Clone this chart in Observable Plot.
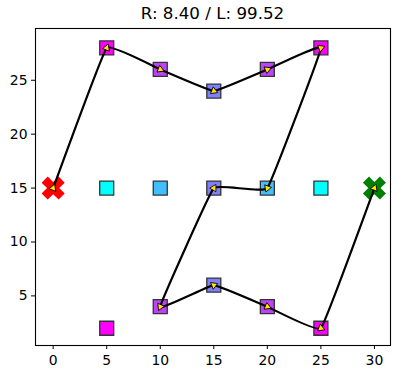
<!DOCTYPE html>
<html><head><meta charset="utf-8">
<script src="https://cdn.jsdelivr.net/npm/d3@7"></script>
<script src="https://cdn.jsdelivr.net/npm/@observablehq/plot@0.6"></script>
<style>
body{margin:0;background:#fff;}
#wrap{position:relative;width:399px;height:376px;}
#title{position:absolute;top:3px;left:35px;width:355px;text-align:center;font-family:"DejaVu Sans";font-size:16.7px;color:#000;}
</style></head>
<body><div id="wrap"><div id="title">R: 8.40 / L: 99.52</div><div id="chart"></div></div>
<script>
const title = "R: 8.40 / L: 99.52";
// squares (grid cells)
const cellX = [5,10,15,20,25, 5,10,15,20,25, 5,10,15,20,25];
const cellY = [28,26,24,26,28, 15,15,15,15,15, 2,4,6,4,2];
const cellColor = ["#ff00ff","#bf40ff","#8080ff","#bf40ff","#ff00ff",
                   "#00ffff","#40bfff","#8080ff","#40bfff","#00ffff",
                   "#ff00ff","#bf40ff","#8080ff","#bf40ff","#ff00ff"];
// route
const pathX = [0,5,10,15,20,25,20,15,10,15,20,25,30];
const pathY = [15,28,26,24,26,28,15,15,4,6,4,2,15];
// start / end
const endX = [0,30];
const endY = [15,15];
const endColor = ["red","green"];
const xTicks = [0,5,10,15,20,25,30];
const yTicks = [5,10,15,20,25];

const cells = cellX.map((x,i)=>({x, y:cellY[i], c:cellColor[i]}));
const route = pathX.map((x,i)=>({x, y:pathY[i]}));
const arrows = route.map((p,i)=>{
  const a = i===0 ? route[0] : route[i-1];
  const b = i===0 ? route[1] : route[i];
  return {x:p.x, y:p.y, rot: Math.atan2(b.x-a.x, b.y-a.y)*180/Math.PI};
});
const ends = endX.map((x,i)=>({x, y:endY[i], c:endColor[i]}));

const xSym = {draw(ctx, size){
  const r = Math.sqrt(size/Math.PI), h = r, a = r*0.36;
  const pts = [[a,h],[a,a],[h,a],[h,-a],[a,-a],[a,-h],[-a,-h],[-a,-a],[-h,-a],[-h,a],[-a,a],[-a,h]];
  const c = Math.SQRT1_2;
  pts.forEach(([px,py],i)=>{const X=(px-py)*c, Y=(px+py)*c; i?ctx.lineTo(X,Y):ctx.moveTo(X,Y);});
  ctx.closePath();
}};

const chart = Plot.plot({
  width: 399, height: 376,
  marginLeft: 35, marginRight: 9, marginTop: 28, marginBottom: 31,
  style: {fontFamily: "DejaVu Sans", fontSize: "13.9px", background: "#fff", color: "#000"},
  x: {domain: [-1.65, 31.5], ticks: xTicks, tickSize: 4, tickPadding: 6, label: null, tickFormat: d=>d},
  y: {domain: [0.4, 29.8], ticks: yTicks, tickSize: 4, tickPadding: 4, label: null, tickFormat: d=>d},
  marks: [
    Plot.dot(cells, {x:"x", y:"y", symbol:"square", r:7.9, fill:"c", stroke:"#333", strokeWidth:1.3}),
    Plot.dot(ends, {x:"x", y:"y", symbol:xSym, r:12, fill:"c", stroke:"none"}),
    Plot.line(route, {x:"x", y:"y", curve:"cardinal", tension:0.78, stroke:"#000", strokeWidth:2.2}),
    Plot.dot(arrows, {x:"x", y:"y", symbol:"triangle", r:2.7, rotate:"rot", fill:"#ffe600", stroke:"#000", strokeWidth:0.8}),
    Plot.frame({stroke:"#000", strokeWidth:1.1})
  ]
});
document.getElementById("chart").appendChild(chart);
</script></body></html>
